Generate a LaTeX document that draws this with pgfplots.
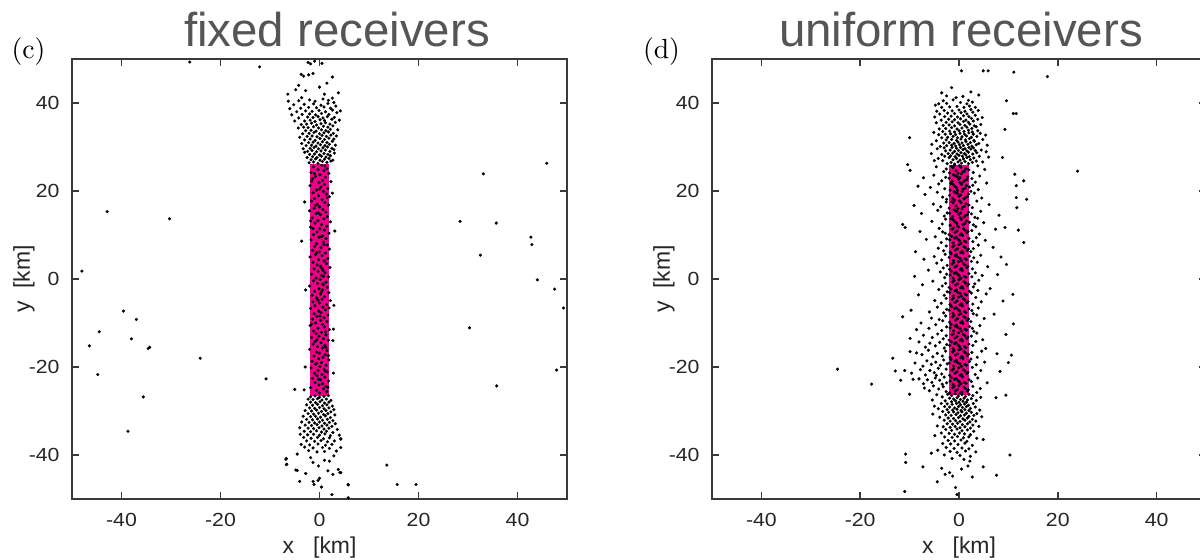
\documentclass[border=0pt]{standalone}
\usepackage{fontspec}
\usepackage{pgfplots}
\pgfplotsset{compat=1.18}
\newfontfamily\arial{Liberation Sans}
\newfontfamily\arialw[FakeStretch=1.12]{Liberation Sans}
\definecolor{titlegray}{HTML}{555555}
\definecolor{axisgray}{HTML}{3A3A3A}
\pgfplotsset{
  panel/.style={
    scale only axis, height=5.8667cm,
    xmin=-50, xmax=50, ymin=-50, ymax=50,
    xtick={-40,-20,0,20,40}, ytick={-40,-20,0,20,40},
    tick align=inside, major tick length=2.6pt,
    axis line style={axisgray, line width=0.55pt},
    every tick/.style={axisgray, line width=0.55pt},
    /pgf/number format/assume math mode=true,
    tick label style={font=\arialw\fontsize{7.2}{8}\selectfont, text=black!85, inner sep=0pt},
    xticklabel style={anchor=center, yshift=-0.28cm},
    yticklabel style={anchor=east, xshift=-0.16cm},
    xlabel={x\ \ \ [km]}, ylabel={y\ \ [km]},
    every axis x label/.style={at={(axis description cs:0.5,0)}, anchor=center, yshift=-0.653cm,
      font=\arial\fontsize{8.7}{10}\selectfont, text=black!85},
    every axis y label/.style={at={(axis description cs:0,0.5)}, xshift=-0.64cm, rotate=90, anchor=center,
      font=\arial\fontsize{8.7}{10}\selectfont, text=black!85},
  },
  dots/.style={only marks, mark=*, mark size=0.55pt, black, mark options={line width=0.1pt}},
}

\begin{document}
\begin{tikzpicture}
% ---------------- (c) fixed receivers
\begin{axis}[panel, at={(0.96cm,0.8133cm)}, anchor=south west, width=6.6cm]
\addplot[draw=none, fill=magenta] coordinates {(-2,-26.5) (2,-26.5) (2,26.1) (-2,26.1)} -- cycle;
% column
\addplot[dots] coordinates {
(0.4,25.8) (-1.2,25.5) (1.5,25.1) (-0.3,24.9) (0.9,24.6) (-1.7,24.2) (1.9,24.0) (0.1,23.7) (-0.8,23.3) (1.2,23.1)
(-1.4,22.8) (0.6,22.4) (2.3,22.1) (-0.1,21.9) (1.0,21.5) (-1.9,21.2) (0.3,20.9) (1.7,20.6) (-0.6,20.2) (0.8,19.9)
(-1.3,19.6) (1.4,19.3) (-0.2,18.9) (2.0,18.7) (-1.0,18.3) (0.5,18.0) (-1.6,17.7) (1.1,17.4) (-0.4,17.0) (1.8,16.8)
(0.0,16.4) (-1.1,16.1) (0.7,15.8) (-2.0,15.5) (1.3,15.2) (-0.7,14.9) (0.2,14.6) (1.6,14.2) (-1.5,13.9) (0.9,13.7)
(-0.3,13.3) (2.2,13.0) (-0.9,12.7) (0.4,12.4) (1.5,12.0) (-1.8,11.8) (0.1,11.4) (1.0,11.1) (3.1,10.9) (-0.5,10.7)
(1.9,10.4) (-1.2,10.1) (0.6,9.8) (-0.1,9.5) (1.3,9.2) (-1.7,8.9) (-3.6,8.6) (0.8,8.4) (-0.6,8.0) (1.6,7.7)
(-1.0,7.4) (0.3,7.1) (2.0,6.8) (-1.4,6.5) (0.0,6.2) (1.2,5.9) (-0.8,5.6) (0.5,5.3) (-1.9,5.0) (1.7,4.7)
(-0.2,4.4) (0.9,4.1) (-1.3,3.8) (1.4,3.5) (-0.5,3.2) (0.2,2.9) (2.1,2.6) (-1.1,2.3) (0.7,2.0) (-0.3,1.7)
(1.1,1.4) (-1.6,1.1) (0.4,0.8) (1.8,0.5) (-0.7,0.2) (0.1,-0.1) (-1.2,-0.4) (1.3,-0.7) (-0.4,-1.0) (0.8,-1.3)
(-2.0,-1.6) (1.6,-1.9) (-0.1,-2.2) (-2.8,-2.5) (0.6,-2.5) (-1.0,-2.8) (1.9,-3.1) (0.2,-3.4) (-1.5,-3.7) (1.0,-4.0)
(-0.6,-4.3) (0.5,-4.6) (2.2,-4.9) (-1.3,-5.2) (0.0,-5.5) (1.4,-5.8) (-0.9,-6.1) (0.7,-6.4) (-1.8,-6.7) (1.2,-7.0)
(-0.2,-7.3) (0.3,-7.6) (-1.1,-7.9) (1.7,-8.2) (-0.5,-8.5) (0.9,-8.8) (-1.4,-9.1) (0.2,-9.4) (1.5,-9.7) (-0.8,-10.0)
(0.6,-10.3) (-1.9,-10.6) (1.0,-10.9) (-0.3,-11.2) (2.0,-11.5) (2.8,-11.4) (-1.2,-11.8) (0.4,-12.1) (-0.7,-12.4) (1.3,-12.7)
(-0.1,-13.0) (-1.6,-13.3) (0.8,-13.6) (1.8,-13.9) (-0.9,-14.2) (2.7,-14.0) (0.3,-14.5) (-1.3,-14.8) (1.1,-15.1) (-0.4,-15.4)
(0.6,-15.7) (-2.0,-16.0) (1.5,-16.3) (-0.6,-16.6) (0.0,-16.9) (1.2,-17.2) (-1.1,-17.5) (0.7,-17.8) (-0.2,-18.1) (1.9,-18.4)
(-1.5,-18.7) (0.4,-19.0) (-0.8,-19.3) (1.3,-19.6) (0.1,-19.9) (-1.7,-20.2) (0.9,-20.5) (-0.3,-20.8) (1.6,-21.1) (2.8,-21.4)
(-1.0,-21.4) (0.5,-21.7) (-0.5,-22.0) (1.1,-22.3) (-1.4,-22.6) (0.2,-22.9) (1.8,-23.2) (-0.9,-23.5) (0.6,-23.8) (-0.1,-24.1)
(1.3,-24.4) (-1.8,-24.7) (0.8,-25.0) (-0.6,-25.3) (-3.1,-25.2) (1.5,-25.6) (0.0,-25.9)
(1.1,25.7) (-1.0,23.9) (-1.6,22.2) (0.0,20.4) (1.6,18.5) (-0.8,16.7) (-0.2,15.0) (-1.8,13.2) (-1.3,11.5) (0.3,9.6)
(0.9,7.8) (-0.6,6.0) (1.0,4.2) (0.5,2.4) (0.8,0.6) (0.6,-1.2) (0.3,-3.0) (-0.3,-4.8) (1.9,-6.6) (0.1,-8.4)
(-1.6,-10.2) (1.2,-12.0) (-0.5,-13.8) (1.3,-15.6) (1.8,-17.4) (-0.6,-19.2) (1.2,-21.0) (-0.2,-22.8) (1.7,-24.6)
(-3.0,17.5) (2.9,-6.0) (-2.9,-20.0) (2.6,19.5) (-5.0,-25.1)
};
% upper cluster
\addplot[dots] coordinates {
(-2.1,26.4) (-1.2,26.6) (-0.3,26.3) (0.6,26.7) (1.5,26.5) (2.3,26.8) (-1.7,27.1) (-0.8,27.3) (0.1,27.0) (1.0,27.2)
(1.9,27.4) (2.7,27.0) (-2.5,27.6) (-1.4,27.8) (-0.5,27.6) (0.4,27.9) (1.3,27.7) (2.2,28.0) (-2.0,28.3) (-1.0,28.4)
(0.0,28.2) (0.9,28.5) (1.7,28.3) (3.0,28.6) (-3.0,28.8)
(-2.4,29.0) (-1.5,29.2) (-0.6,28.9) (0.3,29.1) (1.2,29.3) (2.1,29.0) (2.9,29.4) (-3.3,29.6) (-1.9,29.7) (-1.1,29.9)
(-0.2,29.6) (0.7,29.8) (1.6,30.0) (2.5,29.7) (-2.7,30.3) (-1.6,30.4) (-0.7,30.2) (0.2,30.5) (1.1,30.3) (2.0,30.6)
(3.2,30.4) (-3.6,30.8) (-2.2,31.0) (-1.3,31.1) (-0.3,30.9) (0.6,31.2) (1.5,31.0) (2.6,31.3)
(-3.0,31.6) (-1.9,31.8) (-0.9,31.5) (0.1,31.9) (1.0,31.7) (1.9,32.0) (2.9,31.8) (-4.0,32.2) (-2.5,32.4) (-1.5,32.5)
(-0.5,32.3) (0.5,32.6) (1.4,32.4) (2.3,32.7) (3.4,32.5) (-3.4,33.0) (-2.1,33.1) (-1.1,33.3) (0.0,33.0) (0.9,33.2)
(1.8,33.4) (2.8,33.1) (-2.8,33.7) (-1.7,33.8) (-0.7,33.6) (0.4,33.9) (1.3,33.7) (2.2,34.0) (3.7,33.9)
(-4.3,34.3) (-3.2,34.5) (-2.3,34.4) (-1.2,34.6) (-0.2,34.3) (0.8,34.7) (1.7,34.5) (2.7,34.8) (-3.7,35.1) (-2.6,35.2)
(-1.6,35.4) (-0.6,35.0) (0.3,35.3) (1.2,35.5) (2.1,35.2) (3.2,35.6) (-5.0,35.9) (-3.0,35.9) (-1.9,36.1) (-0.9,35.8)
(0.1,36.2) (1.0,36.0) (2.5,36.3) (4.0,36.1) (-4.2,36.6) (-2.4,36.8) (-1.3,36.7) (-0.3,36.9) (0.7,36.6) (1.6,36.9) (3.0,36.7)
(-5.6,37.3) (-3.5,37.4) (-2.0,37.5) (-0.8,37.3) (0.4,37.6) (1.9,37.4) (3.5,37.8) (-4.6,38.0) (-2.8,38.2) (-1.5,38.1)
(-0.1,38.3) (1.2,38.0) (2.6,38.4) (4.2,38.2) (-6.0,38.7) (-3.8,38.8) (-2.2,39.0) (-0.6,38.9) (0.9,39.1) (2.2,38.8)
(3.3,39.3) (-5.2,39.6) (-3.1,39.7) (-1.2,39.8) (0.3,39.5) (1.7,39.9) (2.9,40.1) (-6.3,40.4) (-4.2,40.5) (-2.0,40.7)
(-0.9,40.4) (0.7,40.9) (1.8,40.6) (2.6,41.1) (-3.6,41.2)
(-6.4,42.0) (1.0,42.0) (3.8,42.3) (-4.2,44.0) (0.0,43.6) (2.6,45.9) (-3.7,46.5) (-3.2,46.1) (-2.2,46.4) (-1.3,46.7)
(-2.3,49.2) (-1.8,48.9) (-1.0,49.5) (0.5,49.0) (-4.8,43.0) (1.5,44.5) (-2.8,42.8)
};
% lower cluster
\addplot[dots] coordinates {
(-1.8,-26.8) (-0.9,-26.6) (0.0,-26.9) (0.9,-26.7) (1.8,-26.5) (-2.3,-27.3) (-1.3,-27.4) (-0.4,-27.2) (0.5,-27.5) (1.4,-27.3)
(2.3,-27.6) (-1.8,-28.0) (-0.8,-28.1) (0.1,-27.9) (1.0,-28.2) (1.9,-28.0) (-2.6,-28.6) (-1.4,-28.7) (-0.4,-28.5) (0.6,-28.8)
(1.5,-28.6) (2.6,-28.9)
(-2.0,-29.3) (-1.0,-29.4) (0.0,-29.2) (0.9,-29.5) (1.9,-29.3) (2.9,-29.7) (-2.9,-29.9) (-1.6,-30.0) (-0.6,-29.8) (0.4,-30.1)
(1.3,-29.9) (2.3,-30.2) (-2.3,-30.6) (-1.2,-30.7) (-0.2,-30.5) (0.8,-30.8) (1.7,-30.6) (3.1,-30.9) (-3.3,-31.2) (-1.8,-31.3)
(-0.8,-31.2) (0.2,-31.4) (1.2,-31.1) (2.2,-31.5) (-2.6,-31.9) (-1.4,-32.0) (-0.4,-31.8) (0.6,-32.1) (1.6,-31.9) (2.7,-32.2)
(-3.6,-32.5) (-2.1,-32.6) (-1.0,-32.7) (0.0,-32.5) (1.0,-32.8) (2.0,-32.6) (3.2,-32.9) (-2.9,-33.2) (-1.6,-33.3) (-0.5,-33.1)
(0.5,-33.4) (1.5,-33.2) (2.5,-33.5) (-4.0,-33.8) (-2.3,-33.9) (-1.2,-34.0) (-0.1,-33.8) (0.9,-34.1) (1.9,-33.9) (3.6,-34.2)
(-3.1,-34.6) (-1.8,-34.7) (-0.6,-34.5) (0.4,-34.8) (1.4,-34.6) (2.7,-34.9)
(-3.9,-35.3) (-2.4,-35.4) (-1.2,-35.3) (0.0,-35.5) (1.1,-35.2) (2.2,-35.6) (4.0,-35.5) (-3.2,-36.0) (-1.7,-36.2) (-0.4,-36.0)
(0.8,-36.3) (2.0,-36.1) (4.3,-36.3) (-2.6,-36.8) (-1.0,-36.9) (0.3,-36.7) (1.6,-37.0) (3.0,-36.8) (-3.7,-37.6) (-2.0,-37.7)
(-0.3,-37.5) (1.2,-37.8) (2.5,-37.6) (-3.0,-38.2) (-1.3,-38.4) (0.6,-38.3) (2.0,-38.5) (3.4,-39.1) (-2.2,-39.0) (-0.5,-39.3) (1.0,-39.2)
(-4.5,-39.8) (2.9,-40.2) (1.0,-41.2) (2.0,-41.4) (-1.8,-40.6) (-1.3,-41.7) (-6.8,-41.0) (-6.6,-42.1) (-0.2,-42.5) (-4.5,-43.5)
(1.7,-43.6) (2.7,-44.4) (3.8,-43.3) (4.1,-44.0) (0.0,-45.3) (-0.3,-45.8) (-4.0,-46.0) (-1.3,-46.0) (-1.1,-46.7) (0.4,-47.3)
(2.5,-49.0) (5.8,-46.7) (5.8,-49.7) (-2.8,-44.2)
};
% scattered events
\addplot[dots] coordinates {
(-42.9,15.3) (-30.3,13.7) (-48,1.8) (-39.6,-7.3) (-37,-9.2) (-44.5,-12) (-38,-13.6) (-46.5,-15.2) (-34.6,-15.8) (-34.3,-15.5)
(-24.1,-18) (-44.8,-21.7) (-35.6,-26.8) (-38.7,-34.6) (-10.8,-22.7) (-6.7,-40.8) (-6.7,-42.2) (-4.8,-43.4)
(45.9,26.3) (33.1,23.9) (28.4,13.1) (35.7,12.7) (42.7,9.5) (42.9,7.8) (32.5,5.4) (44,-0.2) (47.5,-2.3) (49.3,-6.6)
(30.3,-11.1) (47.9,-20.7) (35.8,-24.3) (13.6,-42.3) (15.7,-46.7) (19.5,-46.7) (5.8,-46.8) (4.3,-36.4) (4.3,-38.3) (4.3,-44)
(-26.2,49.3) (-12.1,48.2)
};
\end{axis}

% ---------------- (d) uniform receivers
\begin{axis}[panel, at={(9.4933cm,0.8133cm)}, anchor=south west, width=6.5867cm]
\addplot[draw=none, fill=magenta] coordinates {(-2,-26.3) (2.1,-26.3) (2.1,26) (-2,26)} -- cycle;
% column and halo, band by band
\addplot[dots] coordinates {
(-1.9,24.1) (-1.2,25.3) (-0.6,24.6) (0.1,25.8) (0.7,24.3) (1.4,25.1) (2.0,24.8) (-1.5,25.6) (-0.2,24.0) (0.4,25.4) (1.1,24.5) (-0.9,25.9) (-3.1,24.4) (-4.6,25.5) (-2.6,25.0) (2.9,24.2) (3.8,25.7) (5.2,24.9) (-9.9,24.7) (11.3,23.8)
(-2.0,22.9) (-1.4,22.2) (-0.8,23.5) (-0.1,22.7) (0.5,23.9) (1.2,22.4) (1.8,23.2) (-1.1,23.7) (0.2,23.0) (0.9,22.1) (1.6,22.6) (-0.4,23.3) (-3.5,22.3) (-5.1,23.6) (-2.7,23.1) (2.6,22.8) (4.2,23.4) (3.3,22.0) (-7.2,23.0) (13.1,22.3)
(-1.8,20.2) (-1.1,21.4) (-0.5,20.7) (0.2,21.9) (0.8,20.4) (1.5,21.2) (2.1,20.9) (-1.6,21.7) (-0.3,20.1) (0.5,21.5) (1.2,20.6) (-0.8,21.0) (-2.9,20.5) (-4.1,21.6) (-5.8,20.8) (2.8,21.3) (3.9,20.3) (5.6,21.8) (11.6,21.2) (-8.3,21.1)
(-1.9,19.0) (-1.3,18.3) (-0.7,19.6) (0.0,18.8) (0.6,19.9) (1.3,18.5) (1.9,19.3) (-1.0,19.8) (0.3,19.1) (1.0,18.2) (1.7,18.7) (-0.3,19.4) (-3.3,18.6) (-4.4,19.7) (-2.5,18.1) (3.1,19.5) (4.6,18.4) (2.4,19.9) (13.7,18.1) (11.6,18.5) (-6.9,19.2)
(-2.0,16.1) (-1.2,17.3) (-0.6,16.6) (0.1,17.8) (0.7,16.3) (1.4,17.1) (2.0,16.8) (-1.5,17.6) (-0.2,16.0) (0.4,17.4) (1.1,16.5) (-0.9,17.9) (-3.7,16.4) (-2.6,17.5) (-5.2,17.0) (2.7,16.2) (3.6,17.7) (6.1,16.9) (11.7,16.2) (-9.1,16.7)
(-1.9,14.9) (-1.3,14.2) (-0.7,15.5) (0.0,14.7) (0.6,15.9) (1.3,14.4) (1.9,15.2) (-1.0,15.7) (0.3,15.0) (1.0,14.1) (1.7,14.6) (-0.4,15.3) (-3.0,14.3) (-4.3,15.6) (-2.4,15.0) (2.5,14.8) (4.4,15.4) (3.2,14.0) (8.1,14.5) (-7.6,14.9)
(-1.8,12.2) (-1.1,13.4) (-0.5,12.7) (0.2,13.9) (0.8,12.4) (1.5,13.2) (2.1,12.9) (-1.6,13.7) (-0.3,12.1) (0.5,13.5) (1.2,12.6) (-0.8,13.0) (-3.4,12.5) (-2.7,13.6) (-5.5,13.1) (2.9,12.3) (3.8,13.8) (5.0,12.8) (9.3,11.7) (12.0,11.1) (-11.4,12.4) (-10.9,11.7)
(-2.0,10.1) (-1.4,11.3) (-0.8,10.6) (-0.1,11.8) (0.5,10.3) (1.2,11.1) (1.8,10.8) (-1.1,11.6) (0.2,10.0) (0.9,11.4) (1.6,10.5) (-0.4,10.9) (-2.8,10.4) (-4.0,11.5) (-3.3,10.7) (2.6,11.0) (4.1,10.2) (3.4,11.9) (-7.9,10.8) (7.4,11.3)
(-1.9,8.9) (-1.2,8.2) (-0.6,9.5) (0.1,8.7) (0.7,9.9) (1.4,8.4) (2.0,9.2) (-1.5,9.7) (-0.2,9.0) (0.4,8.1) (1.1,8.6) (-0.9,9.3) (-3.6,8.3) (-4.8,9.6) (-2.5,9.1) (2.8,8.5) (3.5,9.4) (5.3,8.8) (13.1,8.3) (-6.6,9.0)
(-1.8,6.1) (-1.3,7.3) (-0.7,6.6) (0.0,7.8) (0.6,6.3) (1.3,7.1) (1.9,6.8) (-1.0,7.6) (0.3,6.0) (1.0,7.4) (1.7,6.5) (-0.3,6.9) (-3.1,6.4) (-2.6,7.5) (-4.2,7.0) (2.4,6.2) (3.9,7.7) (2.9,6.9) (-8.8,6.2) (6.9,7.2)
(-2.0,4.9) (-1.1,4.2) (-0.5,5.5) (0.2,4.7) (0.8,5.9) (1.5,4.4) (2.1,5.2) (-1.6,5.7) (-0.3,5.0) (0.5,4.1) (1.2,4.6) (-0.8,5.3) (-3.5,4.3) (-2.8,5.6) (-5.0,5.1) (3.0,4.8) (4.4,5.4) (2.5,4.0) (8.5,5.0) (-7.1,4.5)
(-1.9,2.2) (-1.4,3.4) (-0.8,2.7) (-0.1,3.9) (0.5,2.4) (1.2,3.2) (1.8,2.9) (-1.1,3.7) (0.2,2.1) (0.9,3.5) (1.6,2.6) (-0.4,3.0) (-3.2,2.5) (-4.5,3.6) (-2.4,3.1) (2.7,2.3) (3.7,3.8) (5.8,2.8) (9.6,3.3) (-6.2,2.0)
(-1.8,0.9) (-1.2,0.2) (-0.6,1.5) (0.1,0.7) (0.7,1.9) (1.4,0.4) (2.0,1.2) (-1.5,1.7) (-0.2,1.0) (0.4,0.1) (1.1,0.6) (-0.9,1.3) (-2.9,0.3) (-3.8,1.6) (-2.5,1.1) (2.6,0.5) (3.3,1.4) (4.7,0.8) (-9.0,0.6) (7.8,1.0)
(-2.0,-1.9) (-1.3,-0.7) (-0.7,-1.4) (0.0,-0.2) (0.6,-1.7) (1.3,-0.9) (1.9,-1.2) (-1.0,-0.4) (0.3,-2.0) (1.0,-0.6) (1.7,-1.5) (-0.3,-1.1) (-3.4,-1.6) (-5.3,-0.5) (-2.7,-1.0) (2.9,-1.8) (4.0,-0.3) (3.2,-1.1) (10.9,-3.5) (-7.4,-1.3)
(-1.9,-3.1) (-1.1,-3.8) (-0.5,-2.5) (0.2,-3.3) (0.8,-2.1) (1.5,-3.6) (2.1,-2.8) (-1.6,-2.3) (-0.3,-3.0) (0.5,-3.9) (1.2,-3.4) (-0.8,-2.7) (-3.0,-3.7) (-4.1,-2.4) (-2.4,-2.9) (2.5,-3.2) (3.8,-2.6) (5.5,-3.4) (-8.2,-3.6) (6.3,-2.2)
(-1.8,-5.8) (-1.4,-4.6) (-0.8,-5.3) (-0.1,-4.1) (0.5,-5.6) (1.2,-4.8) (1.8,-5.1) (-1.1,-4.3) (0.2,-5.9) (0.9,-4.5) (1.6,-5.4) (-0.4,-5.0) (-3.6,-5.5) (-2.6,-4.4) (-4.9,-4.9) (2.8,-5.7) (3.4,-4.2) (4.5,-5.2) (-9.7,-7.1) (8.9,-5.0)
(-2.0,-7.1) (-1.2,-7.8) (-0.6,-6.5) (0.1,-7.3) (0.7,-6.1) (1.4,-7.6) (2.0,-6.8) (-1.5,-6.3) (-0.2,-7.0) (0.4,-7.9) (1.1,-7.4) (-0.9,-6.7) (-3.1,-7.7) (-4.4,-6.4) (-2.5,-6.9) (2.6,-7.2) (3.9,-6.6) (2.9,-7.9) (-11.4,-8.6) (7.1,-8.0) (-6.0,-7.5)
(-1.9,-9.8) (-1.3,-8.6) (-0.7,-9.3) (0.0,-8.1) (0.6,-9.6) (1.3,-8.8) (1.9,-9.1) (-1.0,-8.3) (0.3,-9.9) (1.0,-8.5) (1.7,-9.4) (-0.3,-9.0) (-3.3,-9.5) (-2.7,-8.4) (-5.6,-8.9) (-4.0,-9.2) (2.4,-9.7) (3.6,-8.2) (5.1,-9.0) (11.0,-10.2) (-7.7,-10.0)
(-1.8,-11.1) (-1.1,-11.8) (-0.5,-10.5) (0.2,-11.3) (0.8,-10.1) (1.5,-11.6) (2.1,-10.8) (-1.6,-10.3) (-0.3,-11.0) (0.5,-11.9) (1.2,-11.4) (-0.8,-10.7) (-3.5,-11.7) (-4.7,-10.4) (-2.5,-10.9) (-6.1,-11.2) (2.7,-11.2) (4.2,-10.6) (3.0,-11.9) (9.5,-12.6) (-8.6,-11.5)
(-2.0,-13.9) (-1.4,-12.7) (-0.8,-13.4) (-0.1,-12.2) (0.5,-13.7) (1.2,-12.9) (1.8,-13.2) (-1.1,-12.4) (0.2,-13.9) (0.9,-12.6) (1.6,-13.5) (-0.4,-13.1) (-3.2,-13.6) (-4.3,-12.5) (-2.6,-12.9) (-5.4,-13.3) (-7.2,-12.8) (2.5,-13.0) (3.6,-12.3) (4.8,-13.8) (-9.9,-13.5)
(-1.9,-15.1) (-1.2,-15.8) (-0.6,-14.5) (0.1,-15.3) (0.7,-14.1) (1.4,-15.6) (2.0,-14.8) (-1.5,-14.3) (-0.2,-15.0) (0.4,-15.9) (1.1,-15.4) (-0.9,-14.7) (-3.0,-15.7) (-3.9,-14.4) (-4.8,-15.2) (-5.9,-14.6) (-6.8,-15.5) (-2.5,-14.9) (2.8,-15.1) (3.4,-14.2) (5.4,-15.8) (-9.9,-16.5) (10.6,-17.3) (-8.1,-14.3)
(-1.8,-17.8) (-1.3,-16.6) (-0.7,-17.3) (0.0,-16.1) (0.6,-17.6) (1.3,-16.8) (1.9,-17.1) (-1.0,-16.3) (0.3,-17.9) (1.0,-16.5) (1.7,-17.4) (-0.3,-17.0) (-3.4,-17.5) (-2.7,-16.4) (-4.4,-16.9) (-5.3,-17.7) (-6.2,-16.2) (-7.5,-17.2) (-8.6,-16.8) (2.6,-16.7) (3.7,-17.8) (4.6,-16.4) (-13.4,-18.0) (7.7,-17.0)
(-2.0,-19.1) (-1.1,-19.8) (-0.5,-18.5) (0.2,-19.3) (0.8,-18.1) (1.5,-19.6) (2.1,-18.8) (-1.6,-18.3) (-0.3,-19.0) (0.5,-19.9) (1.2,-19.4) (-0.8,-18.7) (-3.1,-18.4) (-3.8,-19.6) (-4.7,-18.9) (-5.6,-19.4) (-6.5,-18.6) (-7.3,-19.8) (-8.9,-19.1) (-2.4,-19.3) (2.4,-18.2) (3.5,-19.5) (5.2,-18.9) (-12.9,-20.9) (-11.0,-20.8) (10.0,-19.0)
(-1.9,-21.9) (-1.4,-20.7) (-0.8,-21.4) (-0.1,-20.2) (0.5,-21.7) (1.2,-20.9) (1.8,-21.2) (-1.1,-20.4) (0.2,-21.9) (0.9,-20.6) (1.6,-21.5) (-0.4,-21.1) (-3.5,-21.6) (-2.6,-20.5) (-4.2,-20.3) (-5.0,-21.3) (-5.9,-20.8) (-6.8,-21.8) (-7.8,-20.6) (-9.6,-21.4) (-4.6,-21.9) (2.7,-20.1) (3.3,-21.7) (4.4,-20.8) (-24.6,-20.5) (8.3,-21.0)
(-1.8,-23.2) (-1.2,-23.9) (-0.6,-22.6) (0.1,-23.4) (0.7,-22.2) (1.4,-23.7) (2.0,-22.9) (-1.5,-22.4) (-0.2,-23.1) (0.4,-23.8) (1.1,-23.5) (-0.9,-22.8) (-3.0,-22.3) (-2.5,-23.6) (-3.9,-23.0) (-4.8,-22.5) (-5.5,-23.5) (-6.4,-22.9) (-7.2,-23.8) (-8.1,-22.7) (-9.3,-22.8) (-3.4,-23.9) (2.5,-23.3) (3.8,-22.5) (5.7,-23.6) (-17.7,-23.9) (-11.8,-23.0)
(-1.9,-25.9) (-1.3,-24.7) (-0.7,-25.4) (0.0,-24.2) (0.6,-25.7) (1.3,-24.9) (1.9,-25.2) (-1.0,-24.4) (0.3,-25.9) (1.0,-24.6) (1.7,-25.5) (-0.3,-25.1) (-3.2,-24.5) (-2.6,-25.6) (-4.1,-25.0) (-5.2,-24.3) (-6.0,-25.4) (-7.0,-24.8) (-10.0,-26.2) (2.8,-24.4) (3.6,-25.8) (4.3,-24.9) (7.5,-27.0) (9.5,-26.4)
};
% upper cluster
\addplot[dots] coordinates {
(-2.4,26.2) (-1.6,26.5) (-0.9,26.1) (-0.2,26.6) (0.5,26.3) (1.2,26.7) (1.9,26.2) (2.7,26.5) (3.5,26.8) (-3.3,26.9) (-1.2,27.1) (-0.5,27.4) (0.2,27.0) (0.9,27.3) (1.6,27.6) (2.3,27.1) (3.0,27.5) (-2.0,27.6) (-2.9,27.9) (-1.7,28.0) (-0.8,27.8) (0.0,28.1) (0.7,27.9) (1.4,28.2) (2.1,27.8) (4.1,27.9) (-4.2,27.4) (4.8,26.6) (6.0,27.7) (-5.0,26.9)
(-3.5,28.3) (-2.2,28.5) (-1.3,28.6) (-0.4,28.4) (0.4,28.7) (1.1,28.5) (1.9,28.8) (2.8,28.4) (3.6,28.7) (-2.7,29.1) (-1.8,29.3) (-0.9,29.0) (-0.1,29.2) (0.8,29.4) (1.6,29.1) (2.4,29.5) (3.3,29.2) (-4.4,29.6) (-3.0,29.8) (-1.4,29.9) (-0.5,29.7) (0.3,29.9) (1.2,29.6) (2.0,29.9) (2.9,29.8) (4.5,29.3) (5.5,28.9) (-5.6,28.5)
(-3.8,30.1) (-2.5,30.3) (-1.5,30.4) (-0.7,30.2) (0.1,30.5) (0.9,30.3) (1.8,30.6) (2.6,30.2) (3.5,30.5) (-3.1,30.9) (-2.0,31.0) (-1.0,30.8) (-0.2,31.1) (0.6,30.9) (1.4,31.2) (2.3,31.0) (3.1,31.3) (4.0,30.8) (-4.6,31.4) (-2.6,31.6) (-1.5,31.7) (-0.5,31.5) (0.4,31.8) (1.3,31.6) (2.1,31.9) (3.0,31.5) (4.8,31.7) (-5.5,30.6) (5.7,30.4)
(-3.5,32.1) (-2.3,32.2) (-1.2,32.4) (-0.3,32.1) (0.6,32.3) (1.5,32.5) (2.5,32.2) (3.6,32.4) (-4.1,32.8) (-2.8,32.9) (-1.7,33.0) (-0.7,32.8) (0.2,33.1) (1.1,32.9) (2.0,33.2) (2.9,32.9) (4.3,33.1) (-3.3,33.5) (-1.9,33.6) (-0.9,33.4) (0.0,33.7) (1.0,33.5) (1.9,33.8) (2.7,33.4) (3.8,33.7) (-5.1,33.3) (5.4,32.7)
(-4.0,34.1) (-2.7,34.2) (-1.5,34.4) (-0.4,34.1) (0.6,34.3) (1.6,34.5) (2.6,34.2) (3.5,34.6) (-3.2,34.9) (-2.0,35.0) (-0.9,34.8) (0.2,35.1) (1.2,34.9) (2.2,35.2) (3.1,34.8) (4.4,35.1) (-4.6,35.5) (-2.6,35.6) (-1.4,35.7) (-0.2,35.5) (0.9,35.8) (1.9,35.6) (2.9,35.9) (9.3,34.0)
(-3.6,36.1) (-2.1,36.3) (-0.9,36.2) (0.3,36.4) (1.4,36.1) (2.5,36.5) (3.8,36.3) (-4.9,36.8) (-2.9,36.9) (-1.6,37.0) (-0.3,36.8) (0.9,37.1) (2.0,36.9) (3.3,37.2) (4.7,36.7) (-3.9,37.5) (-2.3,37.7) (-0.9,37.6) (0.4,37.8) (1.6,37.5) (2.8,37.9) (11.0,37.6) (11.6,37.6)
(-4.5,38.1) (-3.0,38.3) (-1.4,38.2) (0.0,38.4) (1.2,38.1) (2.4,38.5) (3.9,38.3) (-3.5,39.0) (-1.9,39.1) (-0.4,39.2) (1.0,39.0) (2.1,39.3) (3.3,39.0) (-4.1,39.8) (-2.5,39.9) (0.3,40.1) (1.6,39.8) (2.7,40.2) (-3.2,40.5) (-1.2,40.7) (-0.6,41.2) (1.9,40.6) (9.6,40.5) (-4.8,39.5)
(-2.5,41.6) (0.8,41.5) (2.4,42.5) (-3.5,42.3) (4.0,41.8) (0.5,47.3) (4.9,47.3) (5.9,47.3) (11.1,47.0) (17.9,46.0) (-1.5,43.5)
(24.0,24.5) (-10.0,32.1) (-10.4,26.0) (8.8,27.6)
};
% lower cluster
\addplot[dots] coordinates {
(-2.3,-26.2) (-1.5,-26.5) (-0.8,-26.1) (-0.1,-26.6) (0.6,-26.3) (1.3,-26.7) (2.0,-26.2) (2.8,-26.5) (-3.4,-26.8) (-4.5,-26.3) (-1.9,-27.1) (-1.1,-27.3) (-0.4,-27.0) (0.3,-27.4) (1.0,-27.1) (1.7,-27.5) (2.5,-27.2) (3.5,-27.6) (-2.8,-27.7) (-1.5,-27.9) (-0.7,-27.7) (0.0,-28.0) (0.8,-27.8) (1.5,-28.0) (-5.4,-27.5) (4.4,-26.9)
(-3.6,-28.3) (-2.4,-28.4) (-1.4,-28.5) (-0.5,-28.3) (0.3,-28.6) (1.1,-28.4) (1.9,-28.7) (2.9,-28.3) (-2.9,-29.0) (-1.9,-29.1) (-0.9,-29.3) (-0.1,-29.0) (0.7,-29.2) (1.5,-29.0) (2.3,-29.4) (3.3,-29.1) (-4.2,-29.5) (-2.4,-29.7) (-1.3,-29.8) (-0.4,-29.6) (0.4,-29.9) (1.2,-29.7) (2.0,-29.9) (4.2,-29.8) (-5.0,-28.9)
(-3.3,-30.1) (-2.1,-30.3) (-1.1,-30.2) (-0.2,-30.4) (0.6,-30.2) (1.5,-30.5) (2.5,-30.3) (3.6,-30.6) (-2.7,-30.9) (-1.6,-31.0) (-0.6,-30.8) (0.3,-31.1) (1.1,-30.9) (2.0,-31.2) (3.0,-31.0) (-3.9,-31.4) (-2.2,-31.6) (-1.1,-31.7) (-0.1,-31.5) (0.8,-31.8) (1.7,-31.6) (2.7,-31.9) (4.6,-31.3) (-5.3,-30.7)
(-3.0,-32.1) (-1.8,-32.3) (-0.7,-32.2) (0.2,-32.4) (1.2,-32.1) (2.2,-32.5) (3.4,-32.3) (-2.4,-32.9) (-1.3,-33.0) (-0.3,-32.8) (0.7,-33.1) (1.7,-32.9) (2.8,-33.2) (-4.4,-33.4) (-3.2,-33.6) (-1.8,-33.7) (-0.8,-33.5) (0.2,-33.8) (1.2,-33.6) (2.3,-33.9) (4.0,-33.5)
(-2.7,-34.2) (-1.5,-34.4) (-0.4,-34.1) (0.6,-34.5) (1.7,-34.3) (3.0,-34.6) (-3.6,-35.0) (-2.0,-35.1) (-0.9,-35.3) (0.1,-35.0) (1.1,-35.2) (2.3,-35.4) (-2.9,-35.9) (-1.4,-36.0) (-0.3,-35.8) (0.9,-36.1) (2.0,-35.9) (3.6,-36.2) (-4.9,-35.6) (-2.2,-36.7) (-0.9,-36.8) (0.4,-36.6) (1.6,-36.9) (4.9,-36.5)
(-3.3,-37.4) (-1.7,-37.5) (-0.2,-37.6) (1.2,-37.3) (2.7,-37.8) (-2.6,-38.3) (-1.0,-38.5) (0.6,-38.4) (2.0,-38.6) (-4.3,-38.9) (-1.8,-39.2) (-0.4,-39.4) (1.3,-39.1) (3.4,-39.3) (-3.0,-40.0) (0.2,-40.1) (2.3,-40.3) (-1.4,-40.8) (1.0,-41.0) (2.2,-41.4) (-10.8,-39.8) (-10.8,-41.7) (-7.3,-42.7) (4.9,-42.7) (10.3,-40.0) (-5.6,-39.6)
(-11.0,-48.3) (-4.4,-46.1) (-2.8,-44.4) (-1.9,-44.0) (-1.3,-44.8) (-0.7,-47.4) (2.7,-45.0) (7.6,-44.6) (-3.5,-43.0) (0.5,-43.2) (1.8,-42.5) (-0.4,-49.0)
};
\end{axis}

\node[font=\arial\fontsize{18}{20}\selectfont, text=titlegray, anchor=base] at (4.4933cm,6.84cm) {fixed receivers};
\node[font=\arial\fontsize{18}{20}\selectfont, text=titlegray, anchor=base] at (12.8133cm,6.84cm) {uniform receivers};
\node[font=\fontsize{10.5}{12}\selectfont, anchor=center] at (0.38cm,6.78cm) {(c)};
\node[font=\fontsize{10.5}{12}\selectfont, anchor=center] at (8.82cm,6.78cm) {(d)};
\pgfresetboundingbox
\path (0,0) rectangle (16cm,7.4667cm);
\end{tikzpicture}
\end{document}
